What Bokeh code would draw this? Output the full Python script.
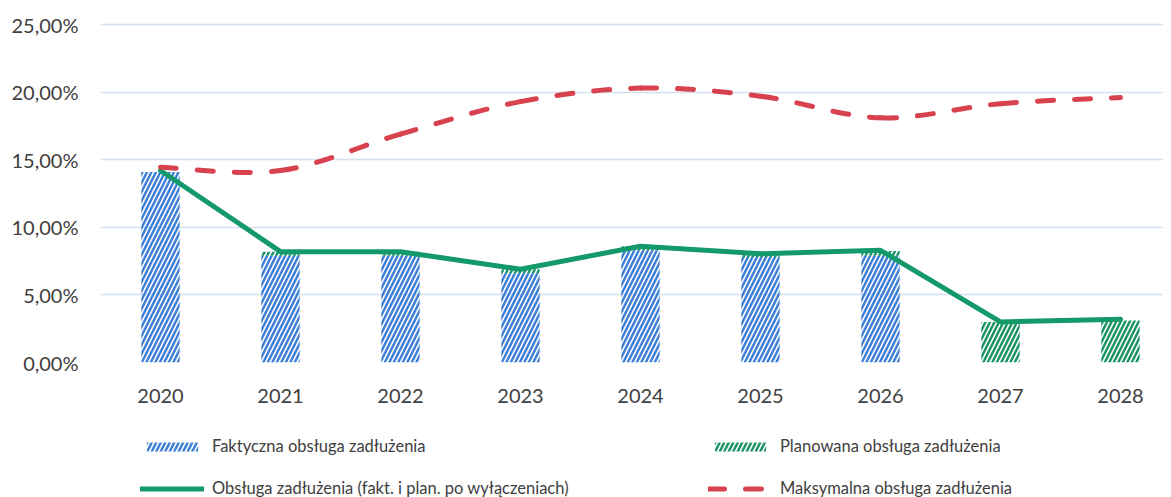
from bokeh.plotting import figure
from bokeh.layouts import column
from bokeh.models import (ColumnDataSource, Range1d, FixedTicker, Legend, LegendItem)
from bokeh.embed import file_html
from bokeh.resources import INLINE

years = ["2020", "2021", "2022", "2023", "2024", "2025", "2026", "2027", "2028"]
faktyczna = [14.1, 7.9, 7.9, 6.6, 8.3, 7.8, 7.9, 0.0, 0.0]
planowana = [0.0, 0.3, 0.3, 0.3, 0.3, 0.25, 0.35, 3.0, 3.1]
obsluga = [14.2, 8.2, 8.2, 6.9, 8.6, 8.05, 8.3, 3.0, 3.2]
maksymalna = [14.45, 14.2, 16.9, 19.3, 20.3, 19.7, 18.1, 19.15, 19.6]
y_ticks = [0, 5, 10, 15, 20, 25]
y_tick_labels = ["0,00%", "5,00%", "10,00%", "15,00%", "20,00%", "25,00%"]

labels = {
    "fakt": "Faktyczna obsługa zadłużenia",
    "plan": "Planowana obsługa zadłużenia",
    "obs": "Obsługa zadłużenia (fakt. i plan. po wyłączeniach)",
    "max": "Maksymalna obsługa zadłużenia",
}

BLUE = "#3d80d6"
GREEN_H = "#1b9464"
GREEN_L = "#14996a"
RED = "#d8424f"
TXT = "#404040"
FONT = "Lato"

bar_style = dict(fill_color="white", fill_alpha=0, line_color=None,
                 hatch_pattern="/", hatch_scale=9, hatch_weight=2.5)
green_line_style = dict(line_color=GREEN_L, line_width=5, line_join="round", line_cap="round")
red_line_style = dict(line_color=RED, line_width=5, line_dash="16 21", line_cap="round")

x = list(range(len(years)))
src = ColumnDataSource(dict(x=x, fakt=faktyczna, plan=planowana,
                            top2=[a + b for a, b in zip(faktyczna, planowana)],
                            obs=obsluga, mx=maksymalna))

W = 1163
LEFT = 100
p = figure(width=W, height=417, output_backend="svg", toolbar_location=None,
           x_range=Range1d(-0.5, -0.5 + (W - LEFT) / 120.0), y_range=Range1d(0, 25.3),
           min_border_left=LEFT, min_border_right=0, min_border_top=20, min_border_bottom=55)
p.outline_line_color = None
p.background_fill_color = "white"

bw = 0.32
p.vbar(x="x", bottom=0, top="fakt", width=bw, source=src, hatch_color=BLUE, **bar_style)
p.vbar(x="x", bottom="fakt", top="top2", width=bw, source=src, hatch_color=GREEN_H, **bar_style)
p.line(x="x", y="obs", source=src, **green_line_style)

# smoothed dashed line (Catmull-Rom through the data points, drawn as Bezier segments)
n = len(maksymalna)
def pt(i):
    i = max(0, min(n - 1, i))
    return x[i], maksymalna[i]
bx0, by0, bx1, by1, cx0, cy0, cx1, cy1 = [], [], [], [], [], [], [], []
for i in range(n - 1):
    p0, p1, p2, p3 = pt(i - 1), pt(i), pt(i + 1), pt(i + 2)
    bx0.append(p1[0]); by0.append(p1[1]); bx1.append(p2[0]); by1.append(p2[1])
    cx0.append(p1[0] + (p2[0] - p0[0]) / 6.0); cy0.append(p1[1] + (p2[1] - p0[1]) / 6.0)
    cx1.append(p2[0] - (p3[0] - p1[0]) / 6.0); cy1.append(p2[1] - (p3[1] - p1[1]) / 6.0)
bsrc = ColumnDataSource(dict(x0=bx0, y0=by0, x1=bx1, y1=by1, cx0=cx0, cy0=cy0, cx1=cx1, cy1=cy1))
p.bezier(x0="x0", y0="y0", x1="x1", y1="y1", cx0="cx0", cy0="cy0", cx1="cx1", cy1="cy1",
         source=bsrc, **red_line_style)

# axes
p.xaxis.ticker = FixedTicker(ticks=x)
p.xaxis.major_label_overrides = {i: years[i] for i in x}
p.yaxis.ticker = FixedTicker(ticks=y_ticks)
p.yaxis.major_label_overrides = {t: l for t, l in zip(y_ticks, y_tick_labels)}
for ax in (p.xaxis, p.yaxis):
    ax.axis_line_color = None
    ax.major_tick_line_color = None
    ax.minor_tick_line_color = None
    ax.major_label_text_font = FONT
    ax.major_label_text_font_size = "20px"
    ax.major_label_text_color = TXT
p.xaxis.major_label_standoff = 20
p.yaxis.major_label_standoff = 16

p.xgrid.grid_line_color = None
p.ygrid.ticker = FixedTicker(ticks=y_ticks)
p.ygrid.grid_line_color = "#d5e1ee"
p.ygrid.grid_line_width = 1.5

# legend strip below the chart (legend renderers hold one point outside the visible range)
q = figure(width=W, height=81, output_backend="svg", toolbar_location=None,
           x_range=Range1d(0, 1), y_range=Range1d(0, 1),
           min_border=0, min_border_left=0, min_border_right=0, min_border_top=0, min_border_bottom=0)
q.axis.visible = False
q.grid.visible = False
q.outline_line_color = None
l_fakt = q.vbar(x=[-5], top=[-5], bottom=[-6], width=bw, hatch_color=BLUE, **bar_style)
l_plan = q.vbar(x=[-5], top=[-5], bottom=[-6], width=bw, hatch_color=GREEN_H, **bar_style)
l_obs = q.line(x=[-6, -5], y=[-6, -5], **green_line_style)
l_max = q.line(x=[-6, -5], y=[-6, -5], **red_line_style)

def make_legend(items, loc):
    lg = Legend(items=items, location=loc, orientation="vertical")
    lg.border_line_color = None
    lg.background_fill_alpha = 0
    lg.padding = 0
    lg.margin = 0
    lg.glyph_width = 64
    lg.glyph_height = 11
    lg.label_height = 16
    lg.label_standoff = 8
    lg.spacing = 22
    lg.label_text_font = FONT
    lg.label_text_font_size = "16.5px"
    lg.label_text_color = TXT
    return lg

q.add_layout(make_legend([
    LegendItem(label=labels["fakt"], renderers=[l_fakt]),
    LegendItem(label=labels["obs"], renderers=[l_obs]),
], (40, 0)), "center")
q.add_layout(make_legend([
    LegendItem(label=labels["plan"], renderers=[l_plan]),
    LegendItem(label=labels["max"], renderers=[l_max]),
], (608, 0)), "center")

open("out.html", "w").write(file_html(column(p, q, spacing=0), INLINE))
